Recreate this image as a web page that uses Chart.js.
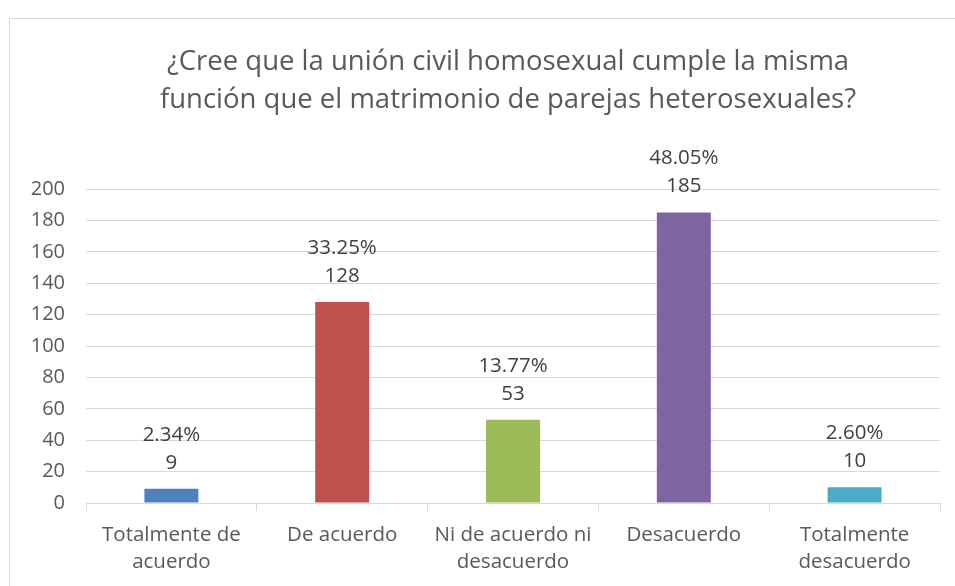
<!DOCTYPE html>
<html>
<head>
<meta charset="utf-8">
<script src="https://cdn.jsdelivr.net/npm/chart.js@4"></script>
<style>
  html, body { margin: 0; padding: 0; background: #fff; }
  #wrap { width: 955px; height: 586px; }
</style>
</head>
<body>
<div id="wrap"><canvas id="respuestas" width="955" height="586"></canvas></div>
<script>
let titulo = ['¿Cree que la unión civil homosexual cumple la misma', 'función que el matrimonio de parejas heterosexuales?'];
let categorias = [['Totalmente de', 'acuerdo'], 'De acuerdo', ['Ni de acuerdo ni', 'desacuerdo'], 'Desacuerdo', ['Totalmente', 'desacuerdo']];
let respuestas = [9, 128, 53, 185, 10];
let porcentajes = ['2.34%', '33.25%', '13.77%', '48.05%', '2.60%'];
let colores = ['#4f81bd', '#c0504d', '#9bbb59', '#8064a2', '#4bacc6'];
let ticksY = [0, 20, 40, 60, 80, 100, 120, 140, 160, 180, 200];

const fuente = '"Open Sans", sans-serif';
const gris = '#595959';
const lineaGris = '#d9d9d9';

// marco exterior y titulo (el grafico original es mas ancho que la captura,
// por eso el titulo queda centrado un poco a la derecha)
const marco = {
  id: 'marco',
  beforeDraw(chart) {
    const c = chart.ctx;
    c.save();
    c.strokeStyle = lineaGris;
    c.lineWidth = 1;
    c.strokeRect(9.5, 18.5, chart.width + 20, chart.height + 20);
    c.fillStyle = gris;
    c.font = '27.5px ' + fuente;
    c.textAlign = 'center';
    c.textBaseline = 'middle';
    titulo.forEach(function (linea, i) {
      c.fillText(linea, 508, 62 + i * 38);
    });
    c.restore();
  }
};

// etiquetas de porcentaje y valor encima de cada barra
const etiquetas = {
  id: 'etiquetas',
  afterDatasetsDraw(chart) {
    const c = chart.ctx;
    const meta = chart.getDatasetMeta(0);
    c.save();
    c.fillStyle = '#404040';
    c.font = '20.5px ' + fuente;
    c.textAlign = 'center';
    c.textBaseline = 'middle';
    meta.data.forEach(function (bar, i) {
      c.fillText(String(respuestas[i]), bar.x, bar.y - 26);
      c.fillText(porcentajes[i], bar.x, bar.y - 54);
    });
    c.restore();
  }
};

const ctx = document.getElementById('respuestas');
new Chart(ctx, {
  type: 'bar',
  data: {
    labels: categorias,
    datasets: [{
      data: respuestas,
      backgroundColor: colores,
      borderWidth: 0,
      categoryPercentage: 1,
      barPercentage: 0.316
    }]
  },
  options: {
    responsive: false,
    animation: false,
    layout: { padding: { left: 0, right: 15, top: 189, bottom: 0 } },
    plugins: {
      legend: { display: false },
      tooltip: { enabled: false },
      title: { display: false }
    },
    scales: {
      x: {
        grid: { offset: true, drawOnChartArea: false, tickLength: 8, color: lineaGris },
        border: { color: lineaGris },
        ticks: { color: gris, font: { family: fuente, size: 20.5, lineHeight: 1.35 }, padding: 10, maxRotation: 0 },
        afterFit(scale) { scale.height = 83; }
      },
      y: {
        min: 0,
        max: 200,
        afterBuildTicks(scale) { scale.ticks = ticksY.map(v => ({ value: v })); },
        grid: { color: lineaGris, drawTicks: false, tickLength: 0 },
        border: { display: false },
        ticks: { color: gris, font: { family: fuente, size: 20 }, padding: 21 },
        afterFit(scale) { scale.width = 86; }
      }
    }
  },
  plugins: [marco, etiquetas]
});
</script>
</body>
</html>
